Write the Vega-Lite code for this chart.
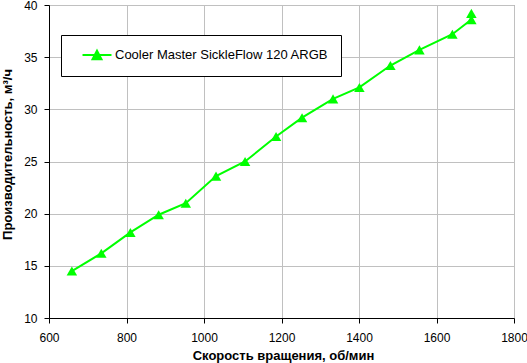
{
  "$schema": "https://vega.github.io/schema/vega-lite/v6.json",
  "width": 465,
  "height": 313,
  "autosize": {"type": "none"},
  "padding": {"left": 49, "top": 5, "right": 13, "bottom": 45},
  "background": "white",
  "config": {
    "font": "Liberation Sans",
    "view": {"stroke": "#808080", "strokeWidth": 1},
    "axis": {
      "domainColor": "#000000",
      "tickColor": "#000000",
      "gridColor": "#c0c0c0",
      "gridOpacity": 1,
      "gridWidth": 1,
      "labelFont": "Liberation Sans",
      "labelFontSize": 12,
      "labelColor": "#000000",
      "titleFont": "Liberation Sans",
      "titleFontSize": 13,
      "titleFontWeight": "bold",
      "titleColor": "#000000",
      "tickSize": 5
    }
  },
  "data": {
    "values": [
      {"i": 1, "rpm": 659, "flow": 14.5, "series": "Cooler Master SickleFlow 120 ARGB"},
      {"i": 2, "rpm": 735, "flow": 16.2, "series": "Cooler Master SickleFlow 120 ARGB"},
      {"i": 3, "rpm": 810, "flow": 18.2, "series": "Cooler Master SickleFlow 120 ARGB"},
      {"i": 4, "rpm": 883, "flow": 19.9, "series": "Cooler Master SickleFlow 120 ARGB"},
      {"i": 5, "rpm": 953, "flow": 21.0, "series": "Cooler Master SickleFlow 120 ARGB"},
      {"i": 6, "rpm": 1031, "flow": 23.6, "series": "Cooler Master SickleFlow 120 ARGB"},
      {"i": 7, "rpm": 1106, "flow": 25.0, "series": "Cooler Master SickleFlow 120 ARGB"},
      {"i": 8, "rpm": 1186, "flow": 27.4, "series": "Cooler Master SickleFlow 120 ARGB"},
      {"i": 9, "rpm": 1253, "flow": 29.2, "series": "Cooler Master SickleFlow 120 ARGB"},
      {"i": 10, "rpm": 1333, "flow": 31.0, "series": "Cooler Master SickleFlow 120 ARGB"},
      {"i": 11, "rpm": 1401, "flow": 32.1, "series": "Cooler Master SickleFlow 120 ARGB"},
      {"i": 12, "rpm": 1481, "flow": 34.2, "series": "Cooler Master SickleFlow 120 ARGB"},
      {"i": 13, "rpm": 1556, "flow": 35.7, "series": "Cooler Master SickleFlow 120 ARGB"},
      {"i": 14, "rpm": 1641, "flow": 37.2, "series": "Cooler Master SickleFlow 120 ARGB"},
      {"i": 15, "rpm": 1690, "flow": 38.6, "series": "Cooler Master SickleFlow 120 ARGB"},
      {"i": 16, "rpm": 1690, "flow": 39.2, "series": "Cooler Master SickleFlow 120 ARGB"}
    ]
  },
  "encoding": {
    "x": {
      "field": "rpm",
      "type": "quantitative",
      "scale": {"domain": [600, 1800], "nice": false, "zero": false},
      "axis": {
        "title": "Скорость вращения, об/мин",
        "values": [600, 800, 1000, 1200, 1400, 1600, 1800],
        "format": "d",
        "labelPadding": 9,
        "titleY": 31,
        "titleX": 234,
        "titleBaseline": "top",
        "labelFlush": false
      }
    },
    "y": {
      "field": "flow",
      "type": "quantitative",
      "scale": {"domain": [10, 40], "nice": false, "zero": false},
      "axis": {
        "title": "Производительность, м³/ч",
        "values": [10, 15, 20, 25, 30, 35, 40],
        "format": "d",
        "labelPadding": 7,
        "titleX": -35,
        "titleY": 149,
        "labelFlush": false
      }
    }
  },
  "layer": [
    {
      "mark": {"type": "line", "strokeWidth": 2},
      "encoding": {
        "order": {"field": "i", "type": "quantitative"},
        "color": {
          "field": "series",
          "type": "nominal",
          "scale": {"range": ["#00ff00"]},
          "legend": {
            "title": null,
            "orient": "none",
            "legendX": 12,
            "legendY": 30,
            "padding": 12,
            "strokeColor": "#000000",
            "fillColor": "#ffffff",
            "cornerRadius": 0,
            "symbolType": "M-2.07,0H2.07M0,-0.61L0.64,0.6L-0.64,0.6Z",
            "symbolSize": 196,
            "symbolFillColor": "#00ff00",
            "symbolStrokeColor": "#00ff00",
            "symbolStrokeWidth": 2,
            "symbolOffset": 16,
            "labelOffset": 10,
            "labelFont": "Liberation Sans",
            "labelFontSize": 13,
            "labelColor": "#000000",
            "labelLimit": 400
          }
        }
      }
    },
    {
      "mark": {"type": "point", "shape": "triangle-up", "filled": true, "size": 110, "opacity": 1, "color": "#00ff00"},
      "encoding": {}
    }
  ]
}
